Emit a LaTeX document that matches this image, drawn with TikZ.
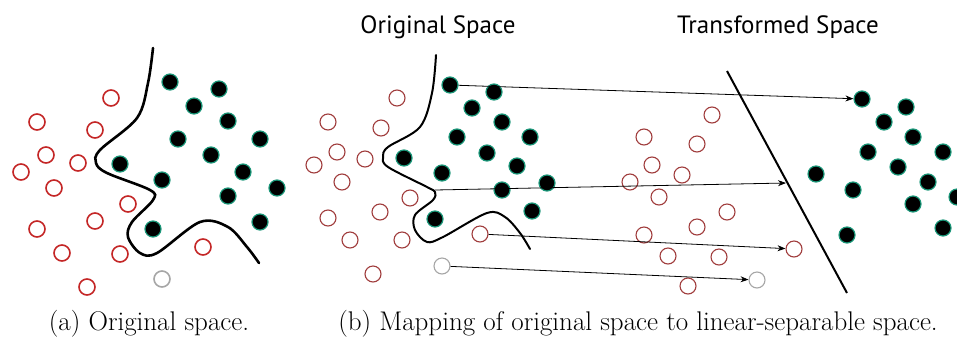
\documentclass[tikz,border=0pt]{standalone}
\usepackage{fontspec}
\newfontfamily\titlefont{PT Sans}
\usetikzlibrary{arrows.meta}

\definecolor{ptred}{RGB}{196,38,38}
\definecolor{ptredb}{RGB}{160,60,60}
\definecolor{ptteal}{RGB}{25,150,120}

\tikzset{
	redpt/.style={circle,draw=ptred,line width=1.6pt,fill=white,minimum size=16pt,inner sep=0pt},
	blkpt/.style={circle,draw=ptteal,line width=1.2pt,fill=black,minimum size=16pt,inner sep=0pt},
	greypt/.style={circle,draw=gray!70,line width=1.6pt,fill=white,minimum size=16pt,inner sep=0pt},
	boundary/.style={line width=2.6pt,line cap=round},
	maparrow/.style={line width=0.8pt,-{Stealth[length=8pt,width=6pt]}},
	caption/.style={anchor=base,font=\fontsize{27}{32}\selectfont},
	spacetitle/.style={anchor=base,font=\titlefont\fontsize{25}{30}\selectfont}
}

\begin{document}
\begin{tikzpicture}[x=1pt,y=-1pt]
	\useasboundingbox (0,0) rectangle (957,338);
	% (a) original space
	\begin{scope}
	\node[redpt] (ar1) at (111,98) {};
	\node[redpt] (ar2) at (37,122) {};
	\node[redpt] (ar3) at (95,130) {};
	\node[redpt] (ar4) at (46,155) {};
	\node[redpt] (ar5) at (78,163) {};
	\node[redpt] (ar6) at (21,172) {};
	\node[redpt] (ar7) at (54,188) {};
	\node[redpt] (ar8) at (128,204) {};
	\node[redpt] (ar9) at (95,221) {};
	\node[redpt] (ar10) at (37,229) {};
	\node[redpt] (ar11) at (62,253) {};
	\node[redpt] (ar12) at (120,254) {};
	\node[redpt] (ar13) at (203,247) {};
	\node[redpt] (ar14) at (87,287) {};
	\node[greypt] (ag) at (162,279) {};
	\node[blkpt] (ab1) at (170,82) {};
	\node[blkpt] (ab2) at (219,89) {};
	\node[blkpt] (ab3) at (194,106) {};
	\node[blkpt] (ab4) at (228,121) {};
	\node[blkpt] (ab5) at (178,139) {};
	\node[blkpt] (ab6) at (211,155) {};
	\node[blkpt] (ab7) at (260,139) {};
	\node[blkpt] (ab8) at (120,164) {};
	\node[blkpt] (ab9) at (162,180) {};
	\node[blkpt] (ab10) at (243,172) {};
	\node[blkpt] (ab11) at (277,188) {};
	\node[blkpt] (ab12) at (228,196) {};
	\node[blkpt] (ab13) at (260,222) {};
	\node[blkpt] (ab14) at (153,229) {};
	\end{scope}
	\draw[boundary] plot[smooth,tension=0.55] coordinates {(153,48) (148,83) (137,118) (100,150) (96,163) (107,173) (150,190) (153,200) (132,222) (128,237) (140,253) (157,253) (200,222) (228,227) (247,247) (259,263)};
	\node[caption] (capa) at (149,330) {(a) Original space.};

	% (b) mapping
	\begin{scope}[every node/.append style={minimum size=14pt}]
	\node[redpt,draw=ptredb,line width=1.1pt] (br1) at (480,234) {};
	\node[redpt,draw=ptredb,line width=1.1pt] (br2) at (397,98) {};
	\node[redpt,draw=ptredb,line width=1.1pt] (br3) at (328,122) {};
	\node[redpt,draw=ptredb,line width=1.1pt] (br4) at (381,128) {};
	\node[redpt,draw=ptredb,line width=1.1pt] (br5) at (337,152) {};
	\node[redpt,draw=ptredb,line width=1.1pt] (br6) at (365,159) {};
	\node[redpt,draw=ptredb,line width=1.1pt] (br7) at (314,165) {};
	\node[redpt,draw=ptredb,line width=1.1pt] (br8) at (342,182) {};
	\node[redpt,draw=ptredb,line width=1.1pt] (br9) at (410,198) {};
	\node[redpt,draw=ptredb,line width=1.1pt] (br10) at (380,212) {};
	\node[redpt,draw=ptredb,line width=1.1pt] (br11) at (328,218) {};
	\node[redpt,draw=ptredb,line width=1.1pt] (br12) at (350,240) {};
	\node[redpt,draw=ptredb,line width=1.1pt] (br13) at (402,240) {};
	\node[redpt,draw=ptredb,line width=1.1pt] (br14) at (373,274) {};
	\node[greypt,line width=1.1pt] (bg) at (442,266) {};
	\node[blkpt] (bb1) at (450,85) {};
	\node[blkpt] (bb2) at (494,92) {};
	\node[blkpt] (bb3) at (472,108) {};
	\node[blkpt] (bb4) at (502,122) {};
	\node[blkpt] (bb5) at (457,137) {};
	\node[blkpt] (bb6) at (487,153) {};
	\node[blkpt] (bb7) at (530,137) {};
	\node[blkpt] (bb8) at (404,158) {};
	\node[blkpt] (bb9) at (442,173) {};
	\node[blkpt] (bb10) at (517,166) {};
	\node[blkpt] (bb11) at (547,183) {};
	\node[blkpt] (bb12) at (502,190) {};
	\node[blkpt] (bb13) at (532,211) {};
	\node[blkpt] (bb14) at (435,219) {};
	% transformed space
	\node[redpt,draw=ptredb,line width=1.1pt] (tr1) at (794,249) {};
	\node[redpt,draw=ptredb,line width=1.1pt] (tr2) at (712,115) {};
	\node[redpt,draw=ptredb,line width=1.1pt] (tr3) at (644,137) {};
	\node[redpt,draw=ptredb,line width=1.1pt] (tr4) at (697,144) {};
	\node[redpt,draw=ptredb,line width=1.1pt] (tr5) at (652,165) {};
	\node[redpt,draw=ptredb,line width=1.1pt] (tr6) at (682,175) {};
	\node[redpt,draw=ptredb,line width=1.1pt] (tr7) at (630,182) {};
	\node[redpt,draw=ptredb,line width=1.1pt] (tr8) at (659,197) {};
	\node[redpt,draw=ptredb,line width=1.1pt] (tr9) at (727,212) {};
	\node[redpt,draw=ptredb,line width=1.1pt] (tr10) at (697,227) {};
	\node[redpt,draw=ptredb,line width=1.1pt] (tr11) at (644,235) {};
	\node[redpt,draw=ptredb,line width=1.1pt] (tr12) at (668,256) {};
	\node[redpt,draw=ptredb,line width=1.1pt] (tr13) at (719,257) {};
	\node[redpt,draw=ptredb,line width=1.1pt] (tr14) at (688,286) {};
	\node[greypt,line width=1.1pt] (tg) at (757,280) {};
	\node[blkpt] (tb1) at (862,99) {};
	\node[blkpt] (tb2) at (906,107) {};
	\node[blkpt] (tb3) at (884,122) {};
	\node[blkpt] (tb4) at (913,137) {};
	\node[blkpt] (tb5) at (868,152) {};
	\node[blkpt] (tb6) at (943,152) {};
	\node[blkpt] (tb7) at (898,167) {};
	\node[blkpt] (tb8) at (816,174) {};
	\node[blkpt] (tb9) at (853,190) {};
	\node[blkpt] (tb10) at (928,182) {};
	\node[blkpt] (tb11) at (957,197) {};
	\node[blkpt] (tb12) at (913,204) {};
	\node[blkpt] (tb13) at (943,228) {};
	\node[blkpt] (tb14) at (847,235) {};
	\end{scope}
	\draw[boundary,line width=2pt] plot[smooth,tension=0.55] coordinates {(436,55) (432,93) (420,127) (388,147) (383,157) (388,167) (427,187) (435,192) (433,200) (415,215) (415,230) (427,242) (443,237) (487,213) (505,217) (520,233) (530,249)};
	\coordinate (sa) at (727,71);
	\coordinate (sb) at (847,293);
	\draw[line width=2pt] (sa) -- (sb);
	\coordinate (bc) at (435,190);
	\coordinate (tl) at (786,183);
	\draw[maparrow] (bb1) -- (tb1);
	\draw[maparrow] (bc) -- (tl);
	\draw[maparrow] (br1) -- (tr1);
	\draw[maparrow] (bg) -- (tg);
	\node[spacetitle] (ttl1) at (438,33) {Original Space};
	\node[spacetitle] (ttl2) at (778,33) {Transformed Space};
	\node[caption] (capb) at (638,330) {(b) Mapping of original space to linear-separable space.};
\end{tikzpicture}
\end{document}
